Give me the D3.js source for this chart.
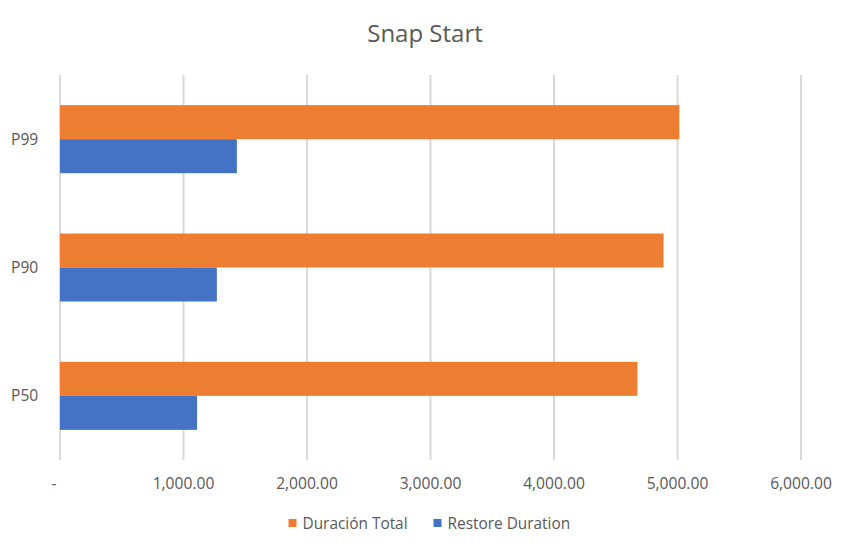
<!DOCTYPE html>
<html>
<head>
<meta charset="utf-8">
<script src="https://cdn.jsdelivr.net/npm/d3@7"></script>
<style>
  html, body { margin: 0; padding: 0; background: #fff; }
  svg { display: block; font-family: "Open Sans", sans-serif; }
</style>
</head>
<body>
<svg id="chart" width="850" height="543"></svg>
<script>
const title = "Snap Start";
const categories = ["P99", "P90", "P50"];
const seriesNames = ["Duración Total", "Restore Duration"];
const duracionTotal = [5015, 4887, 4676];
const restoreDuration = [1432, 1270, 1110];
const xTicks = [0, 1000, 2000, 3000, 4000, 5000, 6000];
const colors = ["#ED7D31", "#4472C4"];

const svg = d3.select("#chart");
const margin = { left: 60, right: 49, top: 75, bottom: 83 };
const W = 850, H = 543;

const x = d3.scaleLinear().domain([0, 6000]).range([margin.left, W - margin.right]);
const y = d3.scaleBand().domain(categories).range([margin.top, H - margin.bottom])
  .paddingInner(0.47).paddingOuter(0.235);
const ySub = d3.scaleBand().domain(seriesNames).range([0, y.bandwidth()]);

// Title
svg.append("text").attr("x", W / 2).attr("y", 42).attr("text-anchor", "middle")
  .attr("font-size", 24).attr("fill", "#595959").text(title);

// Gridlines
svg.append("g").selectAll("line").data(xTicks).join("line")
  .attr("x1", d => x(d)).attr("x2", d => x(d))
  .attr("y1", margin.top).attr("y2", H - margin.bottom)
  .attr("stroke", "#d9d9d9").attr("stroke-width", 2);

// X axis tick labels
const fmt = d => d === 0 ? "-" : d3.format(",.2f")(d);
svg.append("g").selectAll("text").data(xTicks).join("text")
  .attr("x", d => d === 0 ? x(d) - 6 : x(d))
  .attr("y", 489)
  .attr("text-anchor", "middle")
  .attr("font-size", 15.6).attr("fill", "#595959")
  .text(fmt);

// Category labels
svg.append("g").selectAll("text").data(categories).join("text")
  .attr("x", 11)
  .attr("y", d => y(d) + y.bandwidth() / 2 + 5.5)
  .attr("font-size", 15.6).attr("fill", "#595959")
  .text(d => d);

// Bars
const rows = categories.map((c, i) => ({ cat: c, vals: [duracionTotal[i], restoreDuration[i]] }));
const grp = svg.append("g").selectAll("g").data(rows).join("g")
  .attr("transform", d => `translate(0,${y(d.cat)})`);
grp.selectAll("rect").data(d => d.vals.map((v, j) => ({ v, s: seriesNames[j], c: colors[j] })))
  .join("rect")
  .attr("x", x(0))
  .attr("y", d => ySub(d.s))
  .attr("width", d => x(d.v) - x(0))
  .attr("height", ySub.bandwidth())
  .attr("fill", d => d.c);

// Legend
const legendItems = [
  { name: seriesNames[0], color: colors[0], x: 288.5 },
  { name: seriesNames[1], color: colors[1], x: 433.5 }
];
const lg = svg.append("g").selectAll("g").data(legendItems).join("g")
  .attr("transform", d => `translate(${d.x},519)`);
lg.append("rect").attr("width", 8).attr("height", 8).attr("fill", d => d.color);
lg.append("text").attr("x", 14).attr("y", 9.5).attr("font-size", 15.4)
  .attr("fill", "#595959").text(d => d.name);
</script>
</body>
</html>
